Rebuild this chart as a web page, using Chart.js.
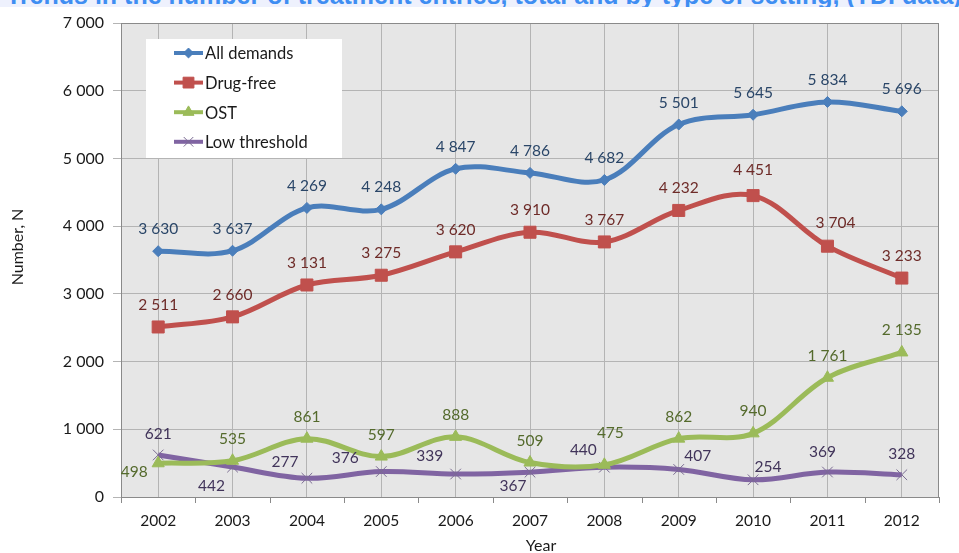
<!DOCTYPE html>
<html>
<head>
<meta charset="utf-8">
<script src="https://cdn.jsdelivr.net/npm/chart.js@4"></script>
<style>
  html, body { margin: 0; padding: 0; background: #fff; overflow: hidden; }
  #wrap { position: relative; width: 959px; height: 553px; }
  #band { position: absolute; left: 0; top: 0; width: 959px; height: 7px; background: #eef1fd; overflow: hidden; z-index: 2; }
  #band span { position: absolute; left: 6px; top: -19px; white-space: nowrap;
               font: bold 25px "Liberation Sans", Arial, sans-serif; color: #3f8ef2; }
  canvas { position: absolute; left: 0; top: 0; }
</style>
</head>
<body>
<div id="wrap">
  <div id="band"><span>Trends in the number of treatment entries, total and by type of setting, (TDI data)</span></div>
  <canvas id="c" width="959" height="553"></canvas>
</div>
<script>
// Treatment entries per year
const years = ['2002', '2003', '2004', '2005', '2006', '2007', '2008', '2009', '2010', '2011', '2012'];
const allDemands   = [3630, 3637, 4269, 4248, 4847, 4786, 4682, 5501, 5645, 5834, 5696];
const drugFree     = [2511, 2660, 3131, 3275, 3620, 3910, 3767, 4232, 4451, 3704, 3233];
const ost          = [498, 535, 861, 597, 888, 509, 475, 862, 940, 1761, 2135];
const lowThreshold = [621, 442, 277, 376, 339, 367, 440, 407, 254, 369, 328];
const yTicks = [0, 1000, 2000, 3000, 4000, 5000, 6000, 7000];

const FONT = 'Lato, "Open Sans", sans-serif';

// "5 834" style thousands separator
function fmt(v) {
  v = Math.round(v);
  if (v < 1000) return String(v);
  return Math.floor(v / 1000) + ' ' + String(v % 1000).padStart(3, '0');
}

// Label placement around each point, in pixels [dx, dy]
const up = [0, -22];
const labelShiftAll  = Array(11).fill(up);
const labelShiftDrug = [up, up, up, up, up, up, up, up, [0, -26], [8, -23], up];
const labelShiftOst  = [[-24, 9], up, up, up, up, up, [6, -32], up, up, up, up];
const labelShiftLow  = [[0, -21], [-21, 19], [-22, -16], [-36, -14], [-26, -18], [-17, 14],
                        [-21, -17], [19, -13], [15, -13], [-5, -20], [0, -21]];

const datasets = [
  { label: 'All demands', data: allDemands, borderColor: '#4a7ebb', backgroundColor: '#4a7ebb',
    pointStyle: 'rectRot', pointRadius: 5.5, labelColor: '#2a4668', labelShift: labelShiftAll },
  { label: 'Drug-free', data: drugFree, borderColor: '#c0504d', backgroundColor: '#c0504d',
    pointStyle: 'rect', pointRadius: 8.5, labelColor: '#6e2b28', labelShift: labelShiftDrug },
  { label: 'OST', data: ost, borderColor: '#9bbb59', backgroundColor: '#9bbb59',
    pointStyle: 'triangle', pointRadius: 7, labelColor: '#546a2c', labelShift: labelShiftOst },
  { label: 'Low threshold', data: lowThreshold, borderColor: '#8064a2', backgroundColor: '#8064a2',
    pointStyle: 'crossRot', pointRadius: 7.5, labelColor: '#41345a', labelShift: labelShiftLow,
    pointBorderColor: '#7a6b92', pointBorderWidth: 1 }
];
datasets.forEach(d => {
  d.borderWidth = 5;
  d.tension = 0.35;
  d.fill = false;
  d.pointBorderWidth = d.pointBorderWidth || 1;
  d.pointBackgroundColor = d.backgroundColor;
  d.pointBorderColor = d.pointBorderColor || d.borderColor;
});

// Grey plot background and frame
const plotFrame = {
  id: 'plotFrame',
  beforeDraw(chart) {
    const { ctx, chartArea: a } = chart;
    ctx.save();
    ctx.fillStyle = '#e6e6e6';
    ctx.fillRect(a.left, a.top, a.right - a.left, a.bottom - a.top);
    ctx.restore();
  },
  beforeDatasetsDraw(chart) {
    const { ctx, chartArea: a } = chart;
    ctx.save();
    ctx.strokeStyle = '#8a8a8a';
    ctx.lineWidth = 1;
    ctx.strokeRect(Math.round(a.left) + 0.5, Math.round(a.top) + 0.5,
                   Math.round(a.right - a.left) - 1, Math.round(a.bottom - a.top));
    // category boundary tick marks under the x axis
    const n = years.length;
    const step = (a.right - a.left) / n;
    ctx.beginPath();
    for (let i = 0; i <= n; i++) {
      const x = Math.round(a.left + i * step) + 0.5;
      ctx.moveTo(x, a.bottom);
      ctx.lineTo(x, a.bottom + 6);
    }
    ctx.stroke();
    ctx.restore();
  }
};

// Value labels next to every point
const valueLabels = {
  id: 'valueLabels',
  afterDatasetsDraw(chart) {
    const { ctx } = chart;
    ctx.save();
    ctx.font = '15.5px ' + FONT;
    ctx.textAlign = 'center';
    ctx.textBaseline = 'middle';
    chart.data.datasets.forEach((ds, i) => {
      const meta = chart.getDatasetMeta(i);
      ctx.fillStyle = ds.labelColor;
      meta.data.forEach((pt, j) => {
        const s = ds.labelShift[j];
        ctx.fillText(fmt(ds.data[j]), pt.x + s[0], pt.y + s[1]);
      });
    });
    ctx.restore();
  }
};

// Legend box inside the plot
const boxLegend = {
  id: 'boxLegend',
  afterDraw(chart) {
    const { ctx } = chart;
    ctx.save();
    ctx.fillStyle = '#ffffff';
    ctx.fillRect(146, 39, 196, 119);
    chart.data.datasets.forEach((ds, i) => {
      const y = 53 + i * 29.6;
      ctx.strokeStyle = ds.borderColor;
      ctx.lineWidth = 4;
      ctx.beginPath();
      ctx.moveTo(174, y);
      ctx.lineTo(203, y);
      ctx.stroke();
      ctx.fillStyle = ds.backgroundColor;
      ctx.strokeStyle = ds.pointBorderColor;
      ctx.lineWidth = 1;
      Chart.helpers.drawPoint(ctx, { pointStyle: ds.pointStyle, radius: ds.pointRadius * 0.9, rotation: 0, borderWidth: 1 }, 188.5, y);
      ctx.fillStyle = '#1a1a1a';
      ctx.font = '16.5px ' + FONT;
      ctx.textAlign = 'left';
      ctx.textBaseline = 'middle';
      ctx.fillText(ds.label, 205, y + 1);
    });
    ctx.restore();
  }
};

// Axis titles
const axisTitles = {
  id: 'axisTitles',
  afterDraw(chart) {
    const { ctx, chartArea: a } = chart;
    ctx.save();
    ctx.fillStyle = '#1a1a1a';
    ctx.font = '16px ' + FONT;
    ctx.textAlign = 'center';
    ctx.textBaseline = 'middle';
    ctx.fillText('Year', a.left + (a.right - a.left) / 2 + 11, 546);
    ctx.translate(18, 247);
    ctx.rotate(-Math.PI / 2);
    ctx.fillText('Number, N', 0, 0);
    ctx.restore();
  }
};

new Chart(document.getElementById('c'), {
  type: 'line',
  data: { labels: years, datasets },
  options: {
    responsive: false,
    animation: false,
    layout: { padding: { top: 23, right: 20, left: 0, bottom: 0 } },
    plugins: { legend: { display: false }, title: { display: false }, tooltip: { enabled: false } },
    scales: {
      x: {
        type: 'category',
        offset: true,
        grid: { offset: false, color: '#b4b4b4', drawTicks: false },
        border: { display: false },
        ticks: { color: '#1a1a1a', font: { family: FONT, size: 15.5 }, padding: 15, maxRotation: 0 },
        afterFit(scale) { scale.height = 56; }
      },
      y: {
        min: 0,
        max: 7000,
        afterBuildTicks(scale) { scale.ticks = yTicks.map(v => ({ value: v })); },
        grid: { color: '#b4b4b4', tickLength: 8 },
        border: { display: false },
        ticks: { color: '#1a1a1a', font: { family: FONT, size: 16 }, padding: 9, callback: v => fmt(v) },
        afterFit(scale) { scale.width = 121; }
      }
    }
  },
  plugins: [plotFrame, valueLabels, boxLegend, axisTitles]
});
</script>
</body>
</html>
